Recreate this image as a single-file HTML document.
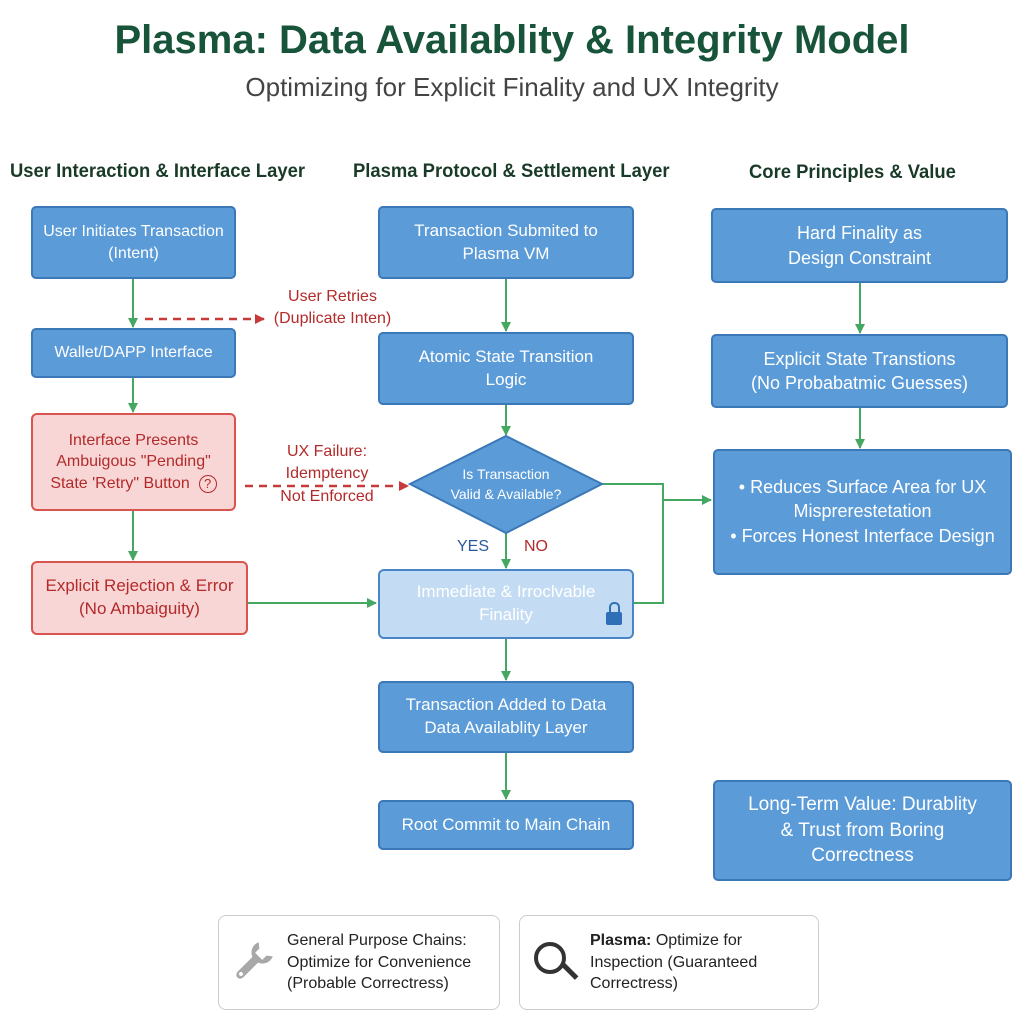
<!DOCTYPE html>
<html><head><meta charset="utf-8"><style>
body{margin:0;width:1024px;height:1024px;background:#fff;position:relative;font-family:"Liberation Sans",sans-serif;overflow:hidden}
.a{position:absolute;box-sizing:border-box;display:flex;align-items:center;justify-content:center;text-align:center;line-height:1.35}
.b{background:#5b9bd8;border:2px solid #3a78b8;border-radius:5px;color:#fff;font-size:17px}
.r{background:#f9d6d6;border:2px solid #d9534f;border-radius:6px;color:#b32a2a;font-size:17px}
.t{position:absolute;white-space:nowrap}
.g{background:#fff;border:1.5px solid #ccc;border-radius:8px;color:#222;font-size:16px;justify-content:flex-start;text-align:left}
.h{font-size:19px;color:#1a3a28;font-weight:bold;transform:scaleX(0.97);transform-origin:left}
</style></head><body>
<div class="t" style="left:0;width:1024px;text-align:center;top:18px;font-size:40px;font-weight:bold;color:#17543a">Plasma: Data Availablity &amp; Integrity Model</div>
<div class="t" style="left:0;width:1024px;text-align:center;top:72px;font-size:26px;color:#444">Optimizing for Explicit Finality and UX Integrity</div>
<div class="t h" style="left:10px;top:161px">User Interaction &amp; Interface Layer</div>
<div class="t h" style="left:353px;top:161px">Plasma Protocol &amp; Settlement Layer</div>
<div class="t h" style="left:749px;top:162px">Core Principles &amp; Value</div>
<svg style="position:absolute;left:0;top:0" width="1024" height="1024">
<defs><marker id="g" markerWidth="10" markerHeight="10" refX="9" refY="5" orient="auto" markerUnits="userSpaceOnUse"><path d="M0,0L10,5L0,10z" fill="#45a862"/></marker>
<marker id="rd" markerWidth="10" markerHeight="10" refX="9" refY="5" orient="auto" markerUnits="userSpaceOnUse"><path d="M0,0L10,5L0,10z" fill="#c83a3a"/></marker></defs>
<g stroke="#45a862" stroke-width="2" fill="none" marker-end="url(#g)">
<line x1="133" y1="279" x2="133" y2="327"/><line x1="133" y1="378" x2="133" y2="412"/><line x1="133" y1="511" x2="133" y2="560"/>
<line x1="248" y1="603" x2="376" y2="603"/>
<line x1="506" y1="279" x2="506" y2="331"/><line x1="506" y1="405" x2="506" y2="435"/><line x1="506" y1="533" x2="506" y2="568"/>
<line x1="506" y1="639" x2="506" y2="680"/><line x1="506" y1="753" x2="506" y2="799"/>
<line x1="860" y1="283" x2="860" y2="333"/><line x1="860" y1="408" x2="860" y2="448"/>
<line x1="663" y1="500" x2="711" y2="500"/>
</g>
<path d="M602,484H663V603H634" stroke="#45a862" stroke-width="2" fill="none"/>
<g stroke="#c83a3a" stroke-width="2.5" stroke-dasharray="8,6" fill="none" marker-end="url(#rd)">
<line x1="145" y1="319" x2="264" y2="319"/><line x1="245" y1="486" x2="408" y2="486"/></g>
<polygon points="506,436 602,484 506,533 410,484" fill="#5b9bd8" stroke="#3a78b8" stroke-width="2"/>
</svg>
<div class="a b" style="left:31px;top:206px;width:205px;height:73px;font-size:16px">User Initiates Transaction<br>(Intent)</div>
<div class="a b" style="left:31px;top:328px;width:205px;height:50px;font-size:16px">Wallet/DAPP Interface</div>
<div class="a r" style="left:31px;top:413px;width:205px;height:98px;font-size:16px"><div style="white-space:nowrap">Interface Presents<br>Ambuigous "Pending"<br>State 'Retry" Button &nbsp;<span style="display:inline-block;width:16px;height:16px;border:1.5px solid #b32a2a;border-radius:50%;font-size:13px;line-height:16px">?</span></div></div>
<div class="a r" style="left:31px;top:561px;width:217px;height:74px">Explicit Rejection &amp; Error<br>(No Ambaiguity)</div>
<div class="t" style="left:265px;top:286px;width:135px;text-align:center;font-size:16px;color:#b32a2a;line-height:1.4">User Retries<br>(Duplicate Inten)</div>
<div class="t" style="left:262px;top:441px;width:130px;text-align:center;font-size:16px;color:#b32a2a;line-height:1.4">UX Failure:<br>Idemptency<br>Not Enforced</div>
<div class="a b" style="left:378px;top:206px;width:256px;height:73px">Transaction Submited to<br>Plasma VM</div>
<div class="a b" style="left:378px;top:332px;width:256px;height:73px">Atomic State Transition<br>Logic</div>
<div class="t" style="left:420px;top:464px;width:172px;text-align:center;font-size:14px;color:#fff;line-height:1.45">Is Transaction<br>Valid &amp; Available?</div>
<div class="t" style="left:457px;top:538px;font-size:16px;color:#2a5a9a">YES</div>
<div class="t" style="left:524px;top:538px;font-size:16px;color:#b32a2a">NO</div>
<div class="a" style="left:378px;top:569px;width:256px;height:70px;background:#c4dcf3;border:2px solid #4a86c5;border-radius:6px;color:#fff;font-size:17px">Immediate &amp; Irroclvable<br>Finality</div>
<div style="position:absolute;left:606px;top:602px;width:16px;height:24px"><div style="position:absolute;left:3px;top:0;width:7px;height:9px;border:2.5px solid #2f6fb8;border-bottom:none;border-radius:5px 5px 0 0"></div><div style="position:absolute;left:0;top:10px;width:16px;height:13px;background:#2f6fb8;border-radius:2px"></div></div>
<div class="a b" style="left:378px;top:681px;width:256px;height:72px">Transaction Added to Data<br>Data Availablity Layer</div>
<div class="a b" style="left:378px;top:800px;width:256px;height:50px">Root Commit to Main Chain</div>
<div class="a b" style="left:711px;top:208px;width:297px;height:75px;font-size:18px">Hard Finality as<br>Design Constraint</div>
<div class="a b" style="left:711px;top:334px;width:297px;height:74px;font-size:18px">Explicit State Transtions<br>(No Probabatmic Guesses)</div>
<div class="a b" style="left:713px;top:449px;width:299px;height:126px;font-size:18px;align-items:flex-start;padding-top:24px">&bull; Reduces Surface Area for UX<br>Misprerestetation<br>&bull; Forces Honest Interface Design</div>
<div class="a b" style="left:713px;top:780px;width:299px;height:101px;font-size:19px">Long-Term Value: Durablity<br>&amp; Trust from Boring<br>Correctness</div>
<div class="a g" style="left:218px;top:915px;width:282px;height:95px;padding-left:68px">General Purpose Chains:<br>Optimize for Convenience<br>(Probable Correctress)</div>
<div class="a g" style="left:519px;top:915px;width:300px;height:95px;padding-left:70px"><span><b>Plasma:</b> Optimize for<br>Inspection (Guaranteed<br>Correctress)</span></div>
<svg style="position:absolute;left:225px;top:930px" width="60" height="60">
<g transform="translate(28,32) rotate(45)" fill="#a8a8a8">
<rect x="-4" y="-8" width="8" height="30" rx="4"/>
<path d="M-10,-18 A11,11 0 1 0 10,-18 L5,-14 L5,-8 L-5,-8 L-5,-14 Z"/>
<circle cx="0" cy="17" r="2" fill="#fff"/>
</g></svg>
<div style="position:absolute;left:534px;top:942px;width:24px;height:24px;border:4px solid #333;border-radius:50%"></div>
<div style="position:absolute;left:560px;top:964px;width:5px;height:20px;background:#333;transform:rotate(-45deg);transform-origin:top"></div>
</body></html>
